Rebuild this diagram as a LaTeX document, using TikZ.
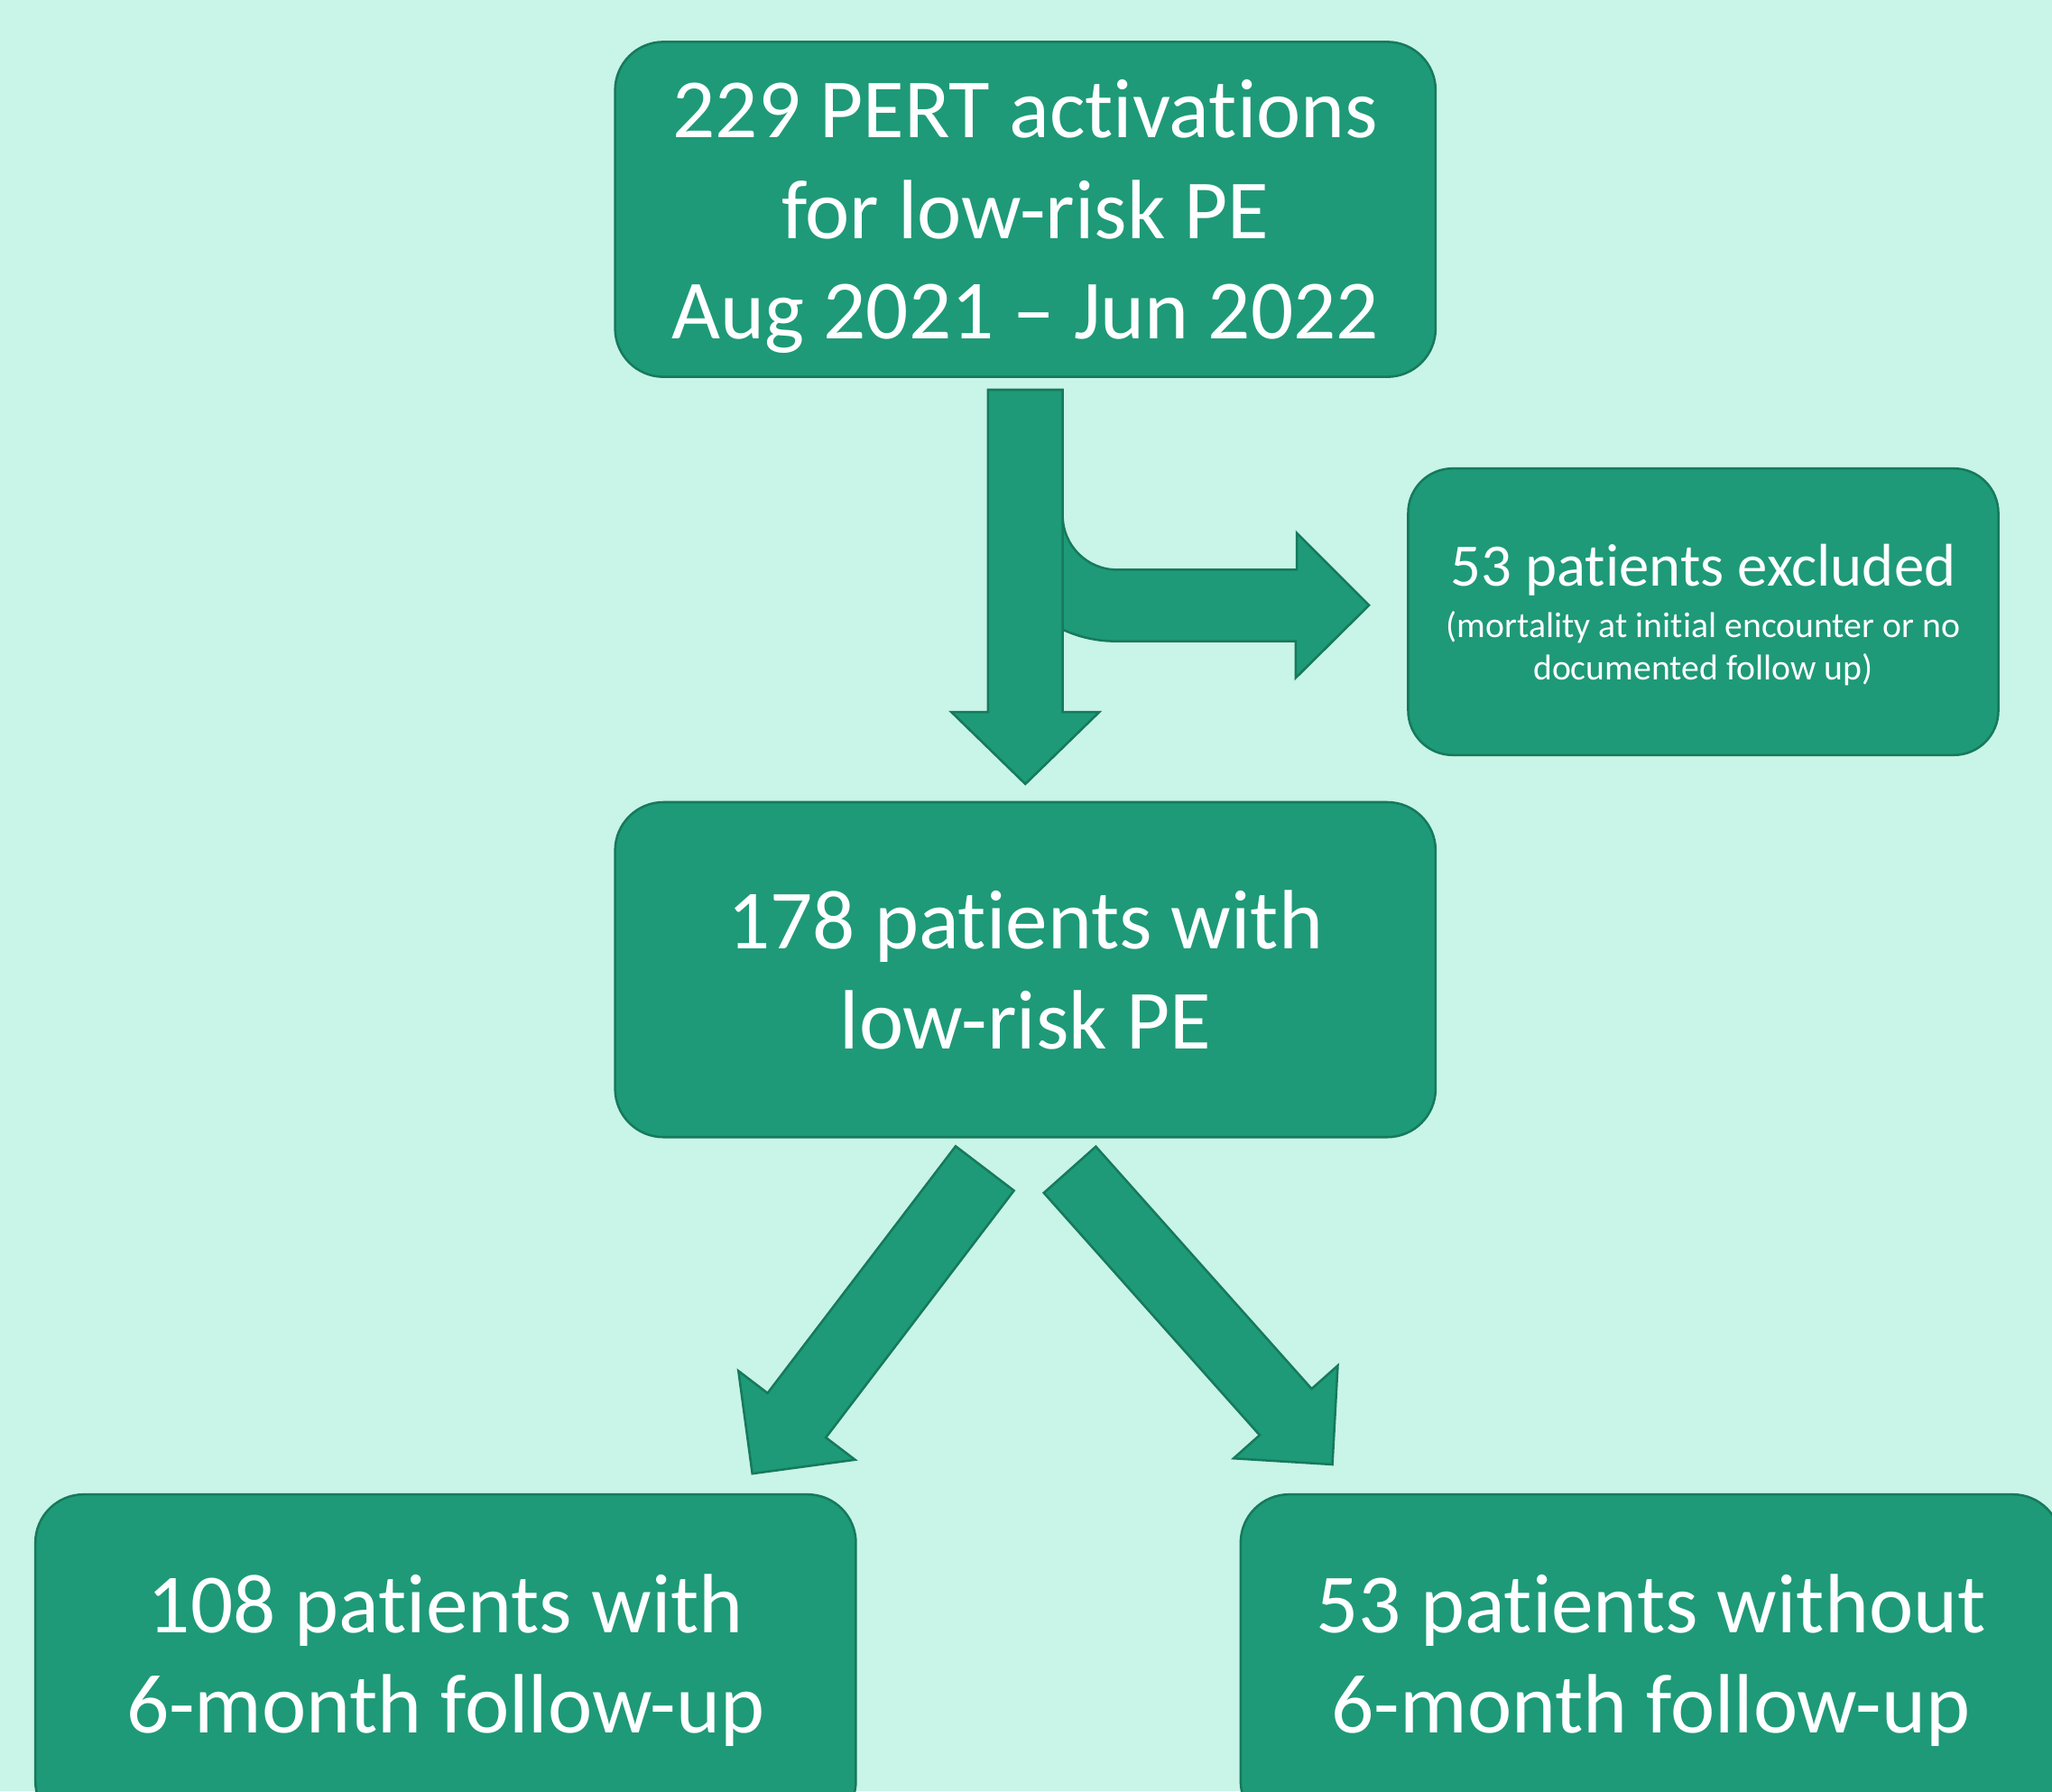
\documentclass[tikz,border=0pt]{standalone}
\usepackage{fontspec}
\setmainfont{Carlito}[Ligatures={TeX,NoCommon}]
\usepackage{tikz}
\usetikzlibrary{
  arrows.meta,
  shapes,
  positioning,
  calc,
  backgrounds
}
\definecolor{peBg}{HTML}{C9F4E8}
\definecolor{peFill}{HTML}{1E9A78}
\definecolor{peLine}{HTML}{167A5C}

\tikzset{
  pebox/.style={draw=peLine, fill=peFill, line width=0.5pt, rounded corners=3.7mm,
    minimum width=62.7mm, minimum height=25.6mm, inner sep=0pt, text=white, align=center},
  fatarrow/.style={draw=peLine, fill=peFill, line width=0.5pt, line join=miter}
}

% block arrow from #1 to #2; #3 half shaft, #4 half head, #5 head length
\newcommand{\blockarrow}[5]{
  \coordinate (abase) at ($(#2)!#5!(#1)$);
  \draw[fatarrow] ($(#1)!#3!90:(#2)$) -- ($(abase)!#3!-90:(#1)$) -- ($(abase)!#4!-90:(#1)$)
    -- (#2) -- ($(abase)!#4!90:(#1)$) -- ($(abase)!#3!90:(#1)$) -- ($(#1)!#3!-90:(#2)$) -- cycle;
}

\begin{document}
\begin{tikzpicture}[x=0.1mm, y=0.1mm, font=\fontsize{18.3}{21.9}\selectfont]
  \useasboundingbox (0,0) rectangle (1568,1369);
  \clip (0,0) rectangle (1568,1369);
  \fill[peBg] (0,0) rectangle (1568,1369);

  \foreach \name/\x/\y/\tdepth/\txt in {top/783.5/1209/0pt/{229 PERT activations\\for low-risk PE\\Aug 2021 -- Jun 2022},
      mid/783.5/628/-1.5pt/{178 patients with\\low-risk PE},
      with6/340.5/99/3.6pt/{108 patients with\\6-month follow-up},
      without6/1261.5/99/3.6pt/{53 patients without\\6-month follow-up}}{
    \node[pebox, text depth=\tdepth] (\name) at (\x,\y) {\txt};
  }
  \node[pebox, minimum width=45.1mm, minimum height=21.9mm, rounded corners=3.4mm, text depth=-0.8pt,
    font=\fontsize{7.8}{9.1}\selectfont] (excl) at (1301.5,901.5)
    {{\fontsize{13.1}{15}\selectfont 53 patients excluded}\\[2.2pt]
     (mortality at initial encounter or no\\documented follow up)};

  % arrow ends
  \coordinate (dnTail) at ($(top.south)+(0,-9)$);
  \coordinate (dnTip) at ($(mid.north)+(0,13)$);
  \coordinate (exTip) at ($(excl.west)+(-29,5)$);
  \coordinate (lTail) at ($(mid.south)+(-31,-23)$);
  \coordinate (lTip) at ($(with6.north east)+(-80,15)$);
  \coordinate (rTail) at ($(mid.south)+(34,-24)$);
  \coordinate (rTip) at ($(without6.north west)+(71,22)$);

  % bent arrow to the excluded box, sits under the down arrow
  \draw[fatarrow] (dnTail) ++(28.5,-6) -- ++(0,-90) arc[start angle=180, end angle=270, radius=41.5]
    -- ++(137.5,0) -- ++(0,28) -- (exTip) -- ++(-56,-55.5) -- ++(0,28) -- ++(-137.5,0)
    arc[start angle=270, end angle=180, radius=96.5] -- ++(0,90) -- cycle;

  \blockarrow{dnTail}{dnTip}{2.85mm}{5.65mm}{5.5mm}
  \blockarrow{lTail}{lTip}{2.8mm}{5.6mm}{5.6mm}
  \blockarrow{rTail}{rTip}{2.66mm}{5.33mm}{5.37mm}
\end{tikzpicture}
\end{document}
